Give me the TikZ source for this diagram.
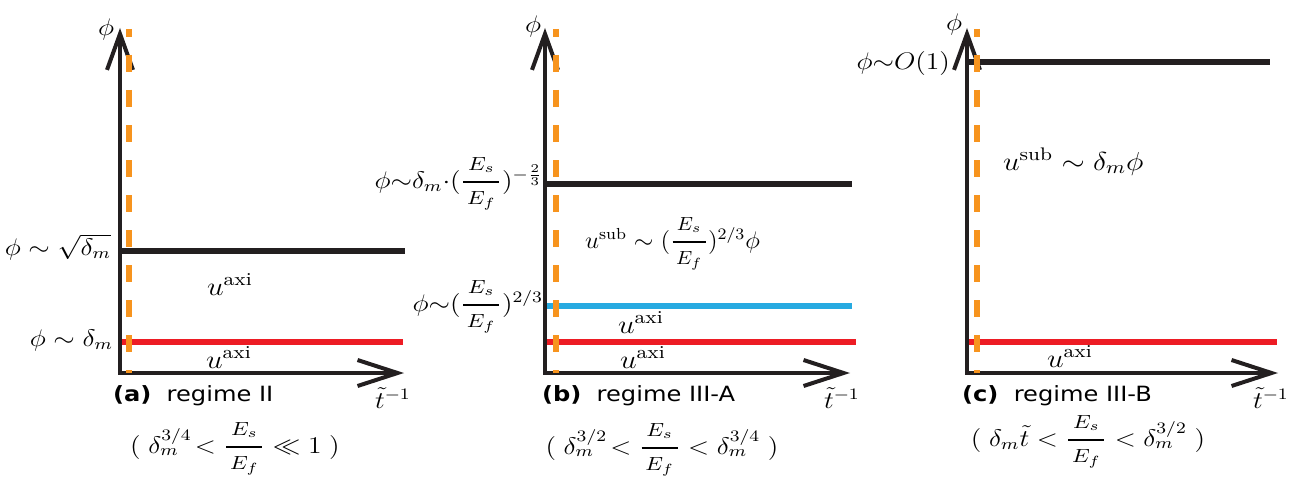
\RequirePackage{fix-cm}
\documentclass[tikz,border=0pt]{standalone}
\usepackage{amsmath}
\usepackage{graphicx}
\usepackage{fontspec}
\newfontfamily\vsans{DejaVu Sans}
\usetikzlibrary{arrows.meta}
\definecolor{axblack}{RGB}{35,31,32}
\definecolor{dorange}{RGB}{247,148,30}
\definecolor{lred}{RGB}{237,28,36}
\definecolor{lblue}{RGB}{39,170,225}
\newcommand\frs[1]{\text{\fontsize{9.5}{11}\selectfont\hspace{1.6pt}$#1$\hspace{1.6pt}}}
\newcommand\sfr[2]{\genfrac{}{}{1.3pt}{0}{\frs{#1}}{\frs{#2}}}
\newcommand\hs[1]{\scalebox{1.15}[1]{#1}}
\begin{document}
\begin{tikzpicture}[x=0.5pt,y=-0.5pt,
  axisline/.style={line width=2pt, draw=axblack, line join=miter,
    arrows={Straight Barb[length=18pt,width=13pt]-Straight Barb[length=20pt,width=13pt]}},
  lvlblack/.style={line width=3.3pt, draw=axblack},
  lvlred/.style={line width=3pt, draw=lred},
  lvlblue/.style={line width=3pt, draw=lblue},
  orangedash/.style={line width=3pt, draw=dorange, dash pattern=on 8.5pt off 9pt, dash phase=4.5pt},
  lab/.style={inner sep=0pt, outer sep=0pt, font=\fontsize{12}{14}\selectfont},
  ulab/.style={inner sep=0pt, outer sep=0pt, font=\fontsize{13}{15}\selectfont},
  captxt/.style={inner sep=0pt, outer sep=0pt, font=\vsans\fontsize{10.5}{12}\selectfont}
]
\useasboundingbox (0,0) rectangle (1299,481);

% ---------- panel (a) ----------
\draw[lvlblack] (120,251) -- (405,251);
\draw[lvlred] (120,342) -- (403,342);
\draw[axisline] (120,28) -- (120,373) -- (404,373);
\draw[orangedash] (129,29) -- (129,373);
\node[lab] (aphi) at (106,30) {\hs{$\phi$}};
\node[lab, anchor=base east] (asq) at (111,255) {\hs{$\phi\sim\sqrt{\delta_m}$}};
\node[lab, anchor=base east] (adm) at (113,346) {\hs{$\phi\sim\delta_m$}};
\node[ulab, anchor=base west] (au1) at (207,295) {\hs{$u^{\mathrm{axi}}$}};
\node[ulab, anchor=base west] (au2) at (206,368) {\hs{$u^{\mathrm{axi}}$}};
\node[captxt, anchor=base west] (acap) at (113,401) {\hs{\textbf{(a)}\ \ regime II}};
\node[lab, anchor=base west] (at) at (375,408) {\hs{$\tilde{t}^{-1}$}};
\node[lab, anchor=base] (acond) at (235,453) {\hs{$(\;\delta_m^{3/4}\!<\sfr{E_s}{E_f}\ll 1\;)$}};

% ---------- panel (b) ----------
\draw[lvlblack] (545,184) -- (852,184);
\draw[lvlblue] (545,306) -- (852,306);
\draw[lvlred] (545,342) -- (856,342);
\draw[axisline] (545,28) -- (545,373) -- (850,373);
\draw[orangedash] (556,29) -- (556,373);
\node[lab] (bphi) at (533,27) {\hs{$\phi$}};
\node[lab, anchor=base east] (bl1) at (543,188) {\hs{$\phi{\sim}\delta_m{\cdot}(\sfr{E_s}{E_f})^{-\frac{2}{3}}$}};
\node[lab, anchor=base east] (bl2) at (543,311) {\hs{$\phi{\sim}(\sfr{E_s}{E_f})^{2/3}$}};
\node[lab, anchor=base west] (bsub) at (585,248) {\scalebox{1.05}[1]{$u^{\mathrm{sub}}\sim(\sfr{E_s}{E_f})^{2/3}\phi$}};
\node[ulab, anchor=base west] (bu1) at (618,333) {\hs{$u^{\mathrm{axi}}$}};
\node[ulab, anchor=base west] (bu2) at (620,368) {\hs{$u^{\mathrm{axi}}$}};
\node[captxt, anchor=base west] (bcap) at (542,401) {\hs{\textbf{(b)}\ \ regime III-A}};
\node[lab, anchor=base west] (bt) at (824,408) {\hs{$\tilde{t}^{-1}$}};
\node[lab, anchor=base] (bcond) at (662,454) {\hs{$(\;\delta_m^{3/2}\!<\sfr{E_s}{E_f}<\delta_m^{3/4}\;)$}};

% ---------- panel (c) ----------
\draw[lvlblack] (967,62) -- (1270,62);
\draw[lvlred] (967,342) -- (1277,342);
\draw[axisline] (967,28) -- (967,373) -- (1278,373);
\draw[orangedash] (977,29) -- (977,373);
\node[lab] (cphi) at (954,25) {\hs{$\phi$}};
\node[lab, anchor=base east] (co1) at (950,69) {\hs{$\phi{\sim}O(1)$}};
\node[ulab, anchor=base west] (csub) at (1003,170) {\hs{$u^{\mathrm{sub}}\sim\delta_m\phi$}};
\node[ulab, anchor=base west] (cu) at (1047,367) {\hs{$u^{\mathrm{axi}}$}};
\node[captxt, anchor=base west] (ccap) at (962,401) {\hs{\textbf{(c)}\ \ regime III-B}};
\node[lab, anchor=base west] (ct) at (1253,408) {\hs{$\tilde{t}^{-1}$}};
\node[lab, anchor=base] (ccond) at (1088,446) {\hs{$(\;\delta_m\tilde{t}<\sfr{E_s}{E_f}<\delta_m^{3/2}\;)$}};
\end{tikzpicture}
\end{document}
